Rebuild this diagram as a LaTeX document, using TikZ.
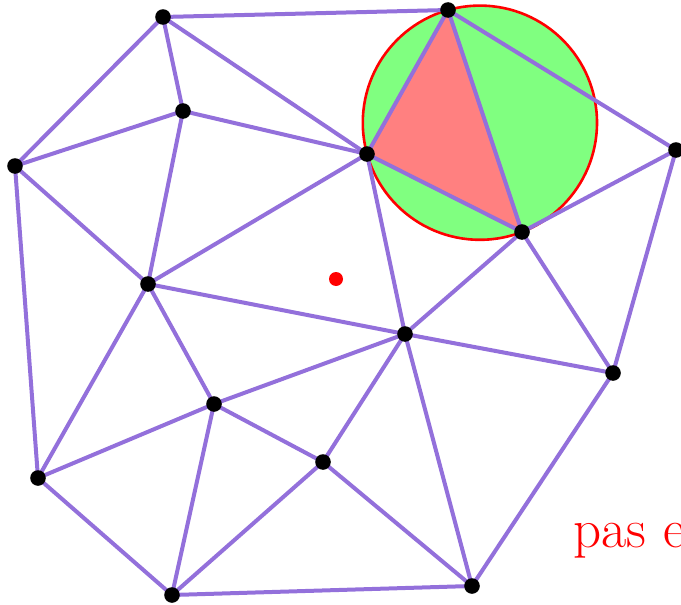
\documentclass[tikz,border=0pt]{standalone}
\definecolor{edgecolor}{RGB}{147,112,219}
\definecolor{circlefill}{RGB}{128,255,128}
\definecolor{trifill}{RGB}{255,128,128}
\tikzset{
  edge/.style={draw=edgecolor, line width=2pt},
  vertex/.style={fill=black},
}
\begin{document}
\begin{tikzpicture}[x=0.5pt, y=-0.5pt]
    \useasboundingbox (0,0) rectangle (681,605);
    % Points (name/x/y)
    \foreach \n/\x/\y in {a/163/17, b/448/10, c/183/111, d/15/166, e/367/154,
        f/676/150, g/522/232, h/148/284, i/405/334, j/613/373, k/214/404,
        l/323/462, m/38/478, n/172/595, o/472/586} {
      \coordinate (\n) at (\x,\y);
    }
    \coordinate (ctr) at (479.9,122.7);
    \coordinate (query) at (336,279);
    % Circumcircle and triangle
    \fill[circlefill] (ctr) circle [radius=58.55pt];
    \fill[trifill] (b) -- (e) -- (g) -- cycle;
    \draw[red, line width=1.3pt] (ctr) circle [radius=58.55pt];
    % Edges
    \foreach \u/\v in {a/b, a/c, a/d, a/e, b/e, b/g, b/f, c/d, c/e, c/h,
        d/h, d/m, e/g, e/h, e/i, f/g, f/j, g/i, g/j, h/i, h/k, h/m,
        i/k, i/l, i/o, i/j, k/m, k/l, k/n, l/n, l/o, m/n, n/o, o/j} {
      \draw[edge] (\u) -- (\v);
    }
    % Vertices
    \foreach \n in {a,b,c,d,e,f,g,h,i,j,k,l,m,n,o} {
      \fill[vertex] (\n) circle [radius=3.9pt];
    }
    \fill[red] (query) circle [radius=3.5pt];
    \node[red, anchor=base west, inner sep=0pt, font=\fontsize{27.5}{33}\selectfont]
      (label) at (573,547) {pas e};
\end{tikzpicture}
\end{document}
